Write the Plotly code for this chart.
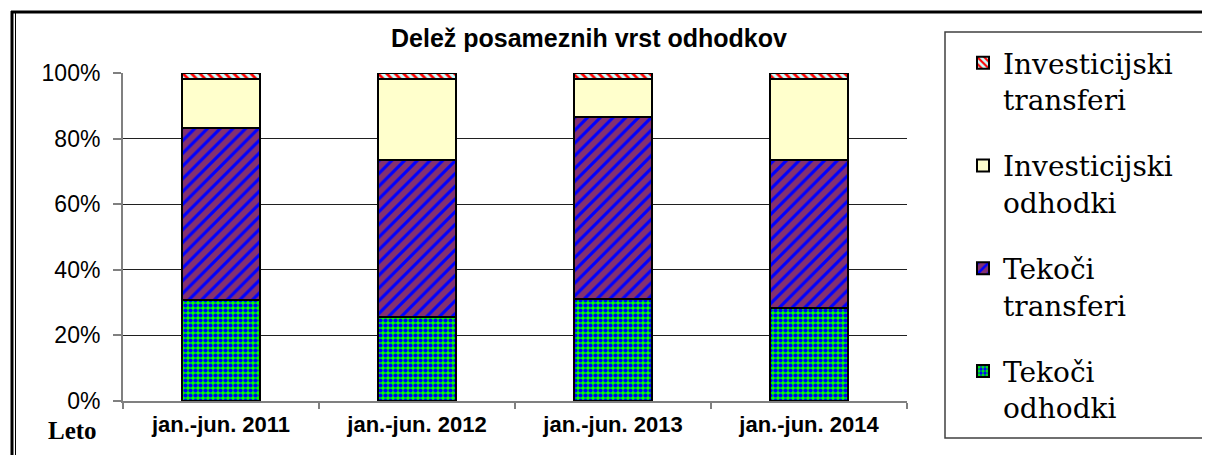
import plotly.graph_objects as go

categories = ["jan.-jun. 2011", "jan.-jun. 2012", "jan.-jun. 2013", "jan.-jun. 2014"]
tekoci_odhodki = [0.308, 0.256, 0.310, 0.285]
tekoci_transferi = [0.524, 0.479, 0.556, 0.451]
investicijski_odhodki = [0.151, 0.246, 0.116, 0.246]
investicijski_transferi = [0.017, 0.019, 0.018, 0.018]

series_names = ["Tekoči<br>odhodki", "Tekoči<br>transferi",
                "Investicijski<br>odhodki", "Investicijski<br>transferi"]
series_values = [tekoci_odhodki, tekoci_transferi, investicijski_odhodki, investicijski_transferi]
legend_ranks = [4, 3, 2, 1]
patterns = [
    dict(shape=".", bgcolor="#00FF00", fgcolor="#0000FF", size=5, solidity=0.55, fillmode="replace"),
    dict(shape="/", bgcolor="#843070", fgcolor="#0000FF", size=9, solidity=0.35, fillmode="replace"),
    dict(shape="", bgcolor="#FFFFCC", fillmode="replace"),
    dict(shape="\\", bgcolor="#CCFFFF", fgcolor="#FF0000", size=6, solidity=0.45, fillmode="replace"),
]
colors = ["#00FF00", "#843070", "#FFFFCC", "#CCFFFF"]

# The page adds an 8px body margin, so the figure is drawn 8px smaller and
# all reference pixel positions (page coordinates) are shifted by OFF.
OFF = 8
W, H = 1210 - OFF, 455 - OFF
L, R, T, B = 123, 907, 73, 401  # plot area in page pixels


def px(x):
    return (x - L) / (R - L)


def py(y):
    return (B - y) / (B - T)


fig = go.Figure()
for i, (name, vals, pat, col, rk) in enumerate(zip(series_names, series_values, patterns, colors, legend_ranks)):
    fig.add_trace(go.Bar(
        x=categories, y=vals, name=name, width=0.4,
        legendgroup=f"g{i}", legendrank=rk,
        marker=dict(color=col, pattern=pat, line=dict(color="black", width=2)),
    ))

fig.update_layout(
    width=W, height=H,
    barmode="stack",
    plot_bgcolor="white", paper_bgcolor="white",
    margin=dict(l=L - OFF, r=1210 - R, t=T - OFF, b=455 - B, autoexpand=False),
    showlegend=True,
    legend=dict(
        traceorder="grouped",
        tracegroupgap=27,
        x=px(963), y=py(38), xanchor="left", yanchor="top",
        valign="top",
        maxheight=440,
        font=dict(family="DejaVu Serif", size=28, color="black"),
        bgcolor="rgba(0,0,0,0)",
        borderwidth=0,
    ),
    xaxis=dict(
        type="category", range=[-0.5, 3.5],
        showline=True, linecolor="#808080", linewidth=2,
        ticks="outside", tickson="boundaries", ticklen=6, tickcolor="#808080", tickwidth=2,
        ticklabelstandoff=3,
        tickfont=dict(family="Arial", size=22, color="black", weight="bold"),
        showgrid=False,
    ),
    yaxis=dict(
        range=[0, 1], dtick=0.2, tickformat=".0%",
        showline=True, linecolor="#808080", linewidth=2,
        ticks="outside", ticklen=8, tickcolor="#808080", tickwidth=2,
        ticklabelstandoff=8,
        tickfont=dict(family="Arial", size=23, color="black"),
        showgrid=True, gridcolor="#202020", gridwidth=1,
        zeroline=False,
    ),
    font=dict(family="Arial", color="black"),
)

fig.add_annotation(
    text="<b>Delež posameznih vrst odhodkov</b>", xref="paper", yref="paper",
    x=px(589), y=py(38), xanchor="center", yanchor="middle", showarrow=False,
    font=dict(family="Arial", size=25, color="black"),
)
fig.add_annotation(
    text="<b>Leto</b>", xref="paper", yref="paper",
    x=px(72), y=py(430), xanchor="center", yanchor="middle", showarrow=False,
    font=dict(family="Liberation Serif", size=25, color="black"),
)

# outer frame (top thick line, left double line)
fig.add_shape(type="line", xref="paper", yref="paper", x0=px(11), x1=px(1215), y0=py(12), y1=py(12),
              line=dict(color="black", width=3))
fig.add_shape(type="line", xref="paper", yref="paper", x0=px(12), x1=px(12), y0=py(11), y1=py(460),
              line=dict(color="black", width=3))
fig.add_shape(type="line", xref="paper", yref="paper", x0=px(15.5), x1=px(15.5), y0=py(13), y1=py(460),
              line=dict(color="black", width=1))
# legend box
fig.add_shape(type="rect", xref="paper", yref="paper", x0=px(945), x1=px(1206), y0=py(438), y1=py(32),
              line=dict(color="#404040", width=1.5), fillcolor="rgba(0,0,0,0)")

fig.write_html("out.html")
